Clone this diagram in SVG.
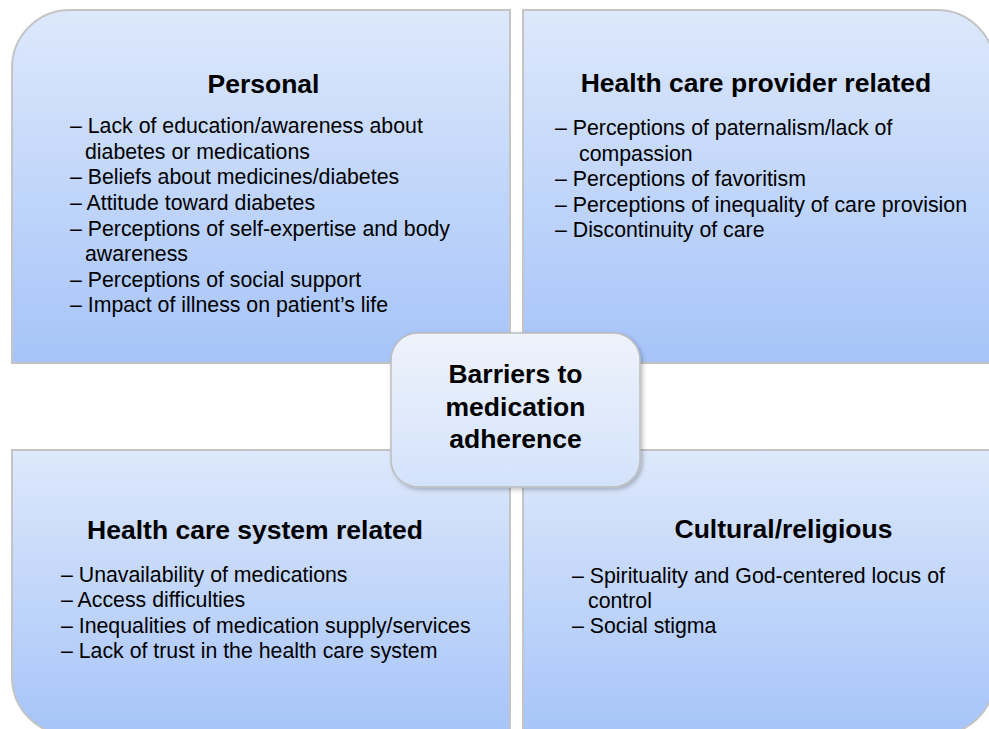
<svg xmlns="http://www.w3.org/2000/svg" width="989" height="729" viewBox="0 0 989 729">
<defs>
<linearGradient id="qg" x1="0" y1="0" x2="0" y2="1">
<stop offset="0" stop-color="#dde8fb"/>
<stop offset="1" stop-color="#a6c4f9"/>
</linearGradient>
<linearGradient id="cg" x1="0" y1="0" x2="0" y2="1">
<stop offset="0" stop-color="#eef3fb"/>
<stop offset="1" stop-color="#d3e2fb"/>
</linearGradient>
<filter id="sh" x="-10%" y="-10%" width="130%" height="130%">
<feDropShadow dx="2" dy="2" stdDeviation="2" flood-color="#000" flood-opacity="0.25"/>
</filter>
<style>
.q{fill:url(#qg);stroke:#c4c4c4;stroke-width:2}
.c{fill:url(#cg);stroke:#bdbdbd;stroke-width:1.5}
text{font-family:"Liberation Sans",Arial,sans-serif;fill:#000}
.t{font-size:26.5px;font-weight:bold;text-anchor:middle}
.i{font-size:21.3px}
</style>
</defs>
<rect width="989" height="729" fill="#fff"/>
<g id="personal">
<path class="q" d="M12,363 V68 A58,58 0 0 1 70,10 H510 V363 Z"/>
<text class="t" x="263.5" y="93">Personal</text>
<text class="i" x="70" y="133">– Lack of education/awareness about</text>
<text class="i" x="85" y="159">diabetes or medications</text>
<text class="i" x="70" y="184">– Beliefs about medicines/diabetes</text>
<text class="i" x="70" y="210">– Attitude toward diabetes</text>
<text class="i" x="70" y="236">– Perceptions of self-expertise and body</text>
<text class="i" x="85" y="261">awareness</text>
<text class="i" x="70" y="287">– Perceptions of social support</text>
<text class="i" x="70" y="312">– Impact of illness on patient’s life</text>
</g>
<g id="provider">
<path class="q" d="M523,10 H937 A58,58 0 0 1 995,68 V363 H523 Z"/>
<text class="t" x="756" y="92">Health care provider related</text>
<text class="i" x="555" y="135">– Perceptions of paternalism/lack of</text>
<text class="i" x="579" y="161">compassion</text>
<text class="i" x="555" y="186">– Perceptions of favoritism</text>
<text class="i" x="555" y="212">– Perceptions of inequality of care provision</text>
<text class="i" x="555" y="237">– Discontinuity of care</text>
</g>
<g id="system">
<path class="q" d="M12,450 H510 V735 H70 A58,58 0 0 1 12,677 Z"/>
<text class="t" x="255" y="539">Health care system related</text>
<text class="i" x="61" y="582">– Unavailability of medications</text>
<text class="i" x="61" y="607">– Access difficulties</text>
<text class="i" x="61" y="633">– Inequalities of medication supply/services</text>
<text class="i" x="61" y="658">– Lack of trust in the health care system</text>
</g>
<g id="cultural">
<path class="q" d="M523,450 H995 V677 A58,58 0 0 1 937,735 H523 Z"/>
<text class="t" x="783.5" y="538">Cultural/religious</text>
<text class="i" x="572" y="583">– Spirituality and God-centered locus of</text>
<text class="i" x="588" y="608">control</text>
<text class="i" x="572" y="633">– Social stigma</text>
</g>
<g id="center">
<rect class="c" x="391" y="333" width="249" height="154" rx="27" ry="27" filter="url(#sh)"/>
<text class="t" x="515.5" y="383">Barriers to</text>
<text class="t" x="515.5" y="416">medication</text>
<text class="t" x="515.5" y="448">adherence</text>
</g>
<g id="connectors"></g>
</svg>
